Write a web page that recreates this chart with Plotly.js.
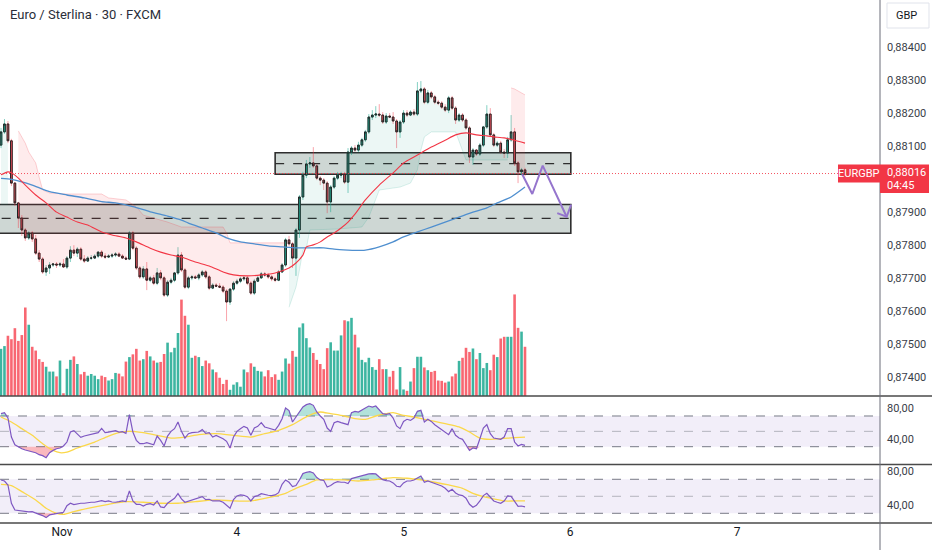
<!DOCTYPE html>
<html><head><meta charset="utf-8">
<script src="https://cdn.plot.ly/plotly-3.0.1.min.js"></script>
<style>html,body{margin:0;padding:0;background:#fff;}#chart{width:932px;height:550px;}</style>
</head><body><div id="chart"></div>
<script>
// ---------- DATA (EUR/GBP 30 min) ----------
const open = [0.88102,0.88142,0.88166,0.88115,0.87987,0.87927,0.87881,0.87845,0.87821,0.87836,
0.87818,0.87775,0.87757,0.87718,0.87730,0.87739,0.87742,0.87739,0.87742,0.87733,
0.87760,0.87784,0.87775,0.87787,0.87757,0.87751,0.87760,0.87760,0.87766,0.87778,
0.87766,0.87763,0.87766,0.87769,0.87772,0.87766,0.87760,0.87757,0.87836,0.87790,
0.87730,0.87703,0.87727,0.87693,0.87700,0.87684,0.87715,0.87700,0.87648,0.87687,
0.87693,0.87715,0.87769,0.87724,0.87672,0.87700,0.87703,0.87700,0.87709,0.87718,
0.87703,0.87669,0.87678,0.87675,0.87672,0.87660,0.87627,0.87666,0.87684,0.87690,
0.87697,0.87700,0.87684,0.87654,0.87690,0.87700,0.87712,0.87709,0.87703,0.87697,
0.87693,0.87718,0.87739,0.87815,0.87803,0.87760,0.87845,0.87945,0.88011,0.88045,
0.88048,0.88039,0.88002,0.87996,0.87987,0.87930,0.87975,0.88002,0.88011,0.88014,
0.87990,0.88081,0.88093,0.88087,0.88102,0.88118,0.88142,0.88187,0.88193,0.88196,
0.88193,0.88172,0.88190,0.88187,0.88175,0.88142,0.88172,0.88199,0.88193,0.88202,
0.88196,0.88266,0.88272,0.88232,0.88260,0.88248,0.88232,0.88229,0.88217,0.88208,
0.88245,0.88214,0.88178,0.88193,0.88178,0.88154,0.88066,0.88087,0.88075,0.88102,
0.88157,0.88196,0.88133,0.88102,0.88108,0.88081,0.88078,0.88118,0.88142,0.88048,
0.88021,0.88027];
const high = [0.88154,0.88181,0.88175,0.88121,0.87990,0.87930,0.87890,0.87851,0.87842,0.87842,
0.87830,0.87784,0.87763,0.87739,0.87748,0.87745,0.87748,0.87748,0.87757,0.87766,
0.87796,0.87799,0.87793,0.87793,0.87769,0.87766,0.87769,0.87772,0.87781,0.87784,
0.87775,0.87772,0.87775,0.87778,0.87778,0.87772,0.87766,0.87842,0.87842,0.87796,
0.87736,0.87736,0.87748,0.87706,0.87709,0.87730,0.87724,0.87706,0.87693,0.87700,
0.87718,0.87793,0.87778,0.87730,0.87706,0.87709,0.87709,0.87715,0.87724,0.87724,
0.87709,0.87684,0.87684,0.87684,0.87678,0.87666,0.87669,0.87690,0.87697,0.87703,
0.87706,0.87706,0.87690,0.87697,0.87706,0.87718,0.87718,0.87715,0.87709,0.87703,
0.87724,0.87745,0.87821,0.87827,0.87809,0.87851,0.87951,0.88021,0.88057,0.88066,
0.88096,0.88045,0.88008,0.88002,0.87993,0.87981,0.88008,0.88021,0.88021,0.88021,
0.88093,0.88099,0.88102,0.88112,0.88124,0.88148,0.88196,0.88208,0.88220,0.88226,
0.88202,0.88199,0.88199,0.88202,0.88181,0.88178,0.88208,0.88208,0.88208,0.88211,
0.88293,0.88296,0.88278,0.88269,0.88266,0.88254,0.88239,0.88235,0.88226,0.88251,
0.88251,0.88220,0.88199,0.88199,0.88184,0.88160,0.88093,0.88090,0.88108,0.88160,
0.88223,0.88214,0.88139,0.88115,0.88115,0.88090,0.88127,0.88193,0.88154,0.88054,
0.88033,0.88033];
const low = [0.88093,0.88136,0.88108,0.87978,0.87918,0.87851,0.87827,0.87812,0.87815,0.87809,
0.87769,0.87748,0.87712,0.87706,0.87712,0.87733,0.87730,0.87733,0.87730,0.87727,
0.87748,0.87766,0.87763,0.87751,0.87745,0.87748,0.87754,0.87757,0.87760,0.87760,
0.87757,0.87760,0.87760,0.87763,0.87763,0.87757,0.87754,0.87754,0.87784,0.87724,
0.87697,0.87697,0.87663,0.87687,0.87678,0.87678,0.87693,0.87642,0.87642,0.87681,
0.87687,0.87709,0.87718,0.87666,0.87666,0.87693,0.87697,0.87693,0.87703,0.87697,
0.87663,0.87666,0.87672,0.87669,0.87654,0.87569,0.87618,0.87660,0.87678,0.87684,
0.87690,0.87678,0.87648,0.87648,0.87687,0.87697,0.87703,0.87697,0.87690,0.87687,
0.87690,0.87715,0.87733,0.87796,0.87730,0.87706,0.87821,0.87936,0.88002,0.88033,
0.88033,0.87996,0.87981,0.87966,0.87896,0.87899,0.87969,0.87996,0.88002,0.87984,
0.87957,0.88072,0.88081,0.88081,0.88096,0.88112,0.88136,0.88178,0.88184,0.88187,
0.88166,0.88166,0.88184,0.88166,0.88093,0.88124,0.88166,0.88187,0.88190,0.88190,
0.88190,0.88260,0.88226,0.88226,0.88242,0.88226,0.88223,0.88211,0.88202,0.88199,
0.88208,0.88166,0.88172,0.88172,0.88148,0.88048,0.88042,0.88069,0.88069,0.88096,
0.88151,0.88127,0.88096,0.88096,0.88075,0.88063,0.88063,0.88112,0.88039,0.87987,
0.88011,0.88008];
const close = [0.88142,0.88166,0.88115,0.87987,0.87927,0.87881,0.87845,0.87821,0.87836,0.87818,
0.87775,0.87757,0.87718,0.87730,0.87739,0.87742,0.87739,0.87742,0.87733,0.87760,
0.87784,0.87775,0.87787,0.87757,0.87751,0.87760,0.87760,0.87766,0.87778,0.87766,
0.87763,0.87766,0.87769,0.87772,0.87766,0.87760,0.87757,0.87836,0.87790,0.87730,
0.87703,0.87727,0.87693,0.87700,0.87684,0.87715,0.87700,0.87648,0.87687,0.87693,
0.87715,0.87769,0.87724,0.87672,0.87700,0.87703,0.87700,0.87709,0.87718,0.87703,
0.87669,0.87678,0.87675,0.87672,0.87660,0.87627,0.87666,0.87684,0.87690,0.87697,
0.87700,0.87684,0.87654,0.87690,0.87700,0.87712,0.87709,0.87703,0.87697,0.87693,
0.87718,0.87739,0.87815,0.87803,0.87760,0.87845,0.87945,0.88011,0.88045,0.88048,
0.88039,0.88002,0.87996,0.87987,0.87930,0.87975,0.88002,0.88011,0.88014,0.87990,
0.88081,0.88093,0.88087,0.88102,0.88118,0.88142,0.88187,0.88193,0.88196,0.88193,
0.88172,0.88190,0.88187,0.88175,0.88142,0.88172,0.88199,0.88193,0.88202,0.88196,
0.88266,0.88272,0.88232,0.88260,0.88248,0.88232,0.88229,0.88217,0.88208,0.88245,
0.88214,0.88178,0.88193,0.88178,0.88154,0.88066,0.88087,0.88075,0.88102,0.88157,
0.88196,0.88133,0.88102,0.88108,0.88081,0.88078,0.88118,0.88142,0.88048,0.88021,
0.88027,0.88016];
const volume = [137,145,175,165,197,160,177,257,207,143,
132,107,99,85,71,71,57,103,8,79,
105,115,93,63,70,59,64,59,49,59,
55,45,49,67,65,57,100,113,121,137,
103,107,131,115,103,97,99,122,155,127,
140,183,280,233,207,111,117,113,87,103,
95,77,69,53,35,47,18,33,40,27,
77,69,95,85,73,71,57,75,55,63,
47,71,109,94,131,114,199,211,168,141,
125,105,93,78,139,156,132,132,176,220,
217,227,178,141,105,98,111,84,76,107,
78,78,56,73,19,84,19,15,42,81,
114,114,83,75,70,73,45,44,39,42,
57,65,102,111,140,128,138,107,125,81,
96,75,120,113,167,172,172,172,295,198,
187,143];
// RSI panes
const rsiA = [73,74.3,67.4,42.6,32.6,29.6,27.4,25.7,24.3,23,
22.2,19.6,18.3,15.7,22.2,25.2,27.4,28.3,30.9,36.1,
49.1,50.9,46.5,42.2,43.9,44.8,45.7,47,48.3,53.9,
48.3,49.1,50.4,50.9,49.1,49.6,47.4,71.7,49.1,38.3,
33.9,33.9,35.2,33.9,32.6,43.9,38.3,30.9,43.9,50,
53.5,62.2,50,41.3,47,48.3,49.1,49.1,52.2,47.4,
48.3,42.6,44.8,42.6,40.4,37,28.3,42.6,50,53.5,
56.5,54.3,44.8,54.3,56.5,61.3,55.7,54.3,53.5,51.7,
57.8,66.5,80.4,77,62.2,68.7,76.1,81.7,84.8,86.1,
83.9,75.2,70,65.7,54.3,50,61.3,63,61.3,60,
58.7,74.3,76.1,75.2,78.3,80.4,83,81.7,83,77.4,
73,72.2,73,67.4,57,53.5,63,65.7,64.3,67.4,
76.1,77.4,62.2,65.7,63,58.7,55.2,52.6,49.1,45.7,
53.5,44.8,41.3,39.6,32.6,25.2,28.3,27.4,40.4,54.3,
58.7,47,41.3,40.4,39.6,42.6,53.5,53.5,36.1,30.9,
33,31.7];
const rsiB = [69.2,68,63.3,41.8,33.9,33.2,32.4,32,31.6,32,
30.8,28.8,27.3,24.9,28.1,28.8,29.6,30.4,31.2,39,
41.8,40.2,41.4,41.8,41.8,42.6,43,43,43.7,44.9,
43.7,44.5,43.3,43,43.7,44.5,43.7,56.3,44.5,40.6,
40.6,38.6,40.6,41.4,39.8,44.5,37.5,36.7,41.8,44.5,
47.7,53.1,46.9,43,44.5,45.7,46.9,48.4,49.6,46.1,
46.5,44.5,44.5,44.5,43,39.8,35.9,46.1,50.4,51.6,
51.2,49.6,44.5,49.6,50.8,53.1,51.9,51.2,50.8,51.6,
54.3,64.1,69.2,66.5,61.4,62.6,69.2,76.7,78.2,79,
77.4,72,69.2,68.8,61,62.6,65.7,67.3,66.5,66.5,
64.9,70.8,72,73.1,74.7,75.9,76.3,76.7,76.3,72.7,
69.6,68.4,68,65.7,61.8,61,65.7,68,68,69.2,
72,73.9,66.5,68,66.5,64.9,63.3,62.2,59.4,55.5,
58.2,53.9,51.6,50.8,47.7,40.6,37.1,39.4,44.5,50.8,
53.5,48.4,44.5,43,41.8,44.5,50.4,50,43.7,38.2,
38.6,37.5];
const maAIdx = [0,3,6,9,12,15,17,19,22,27,31,34,37,41,45,49,53,57,62,67,72,76,80,84,87,90,92,95,99,102,105,108,111,113,116,119,122,125,128,132,135,138,141,144,148,151];
const maAVal = [68.7,62.2,53.5,44.8,33.9,25.2,22.2,23,28.3,36.1,43.9,48.3,50,48.3,44.8,41.3,42.6,45.7,47,44.8,42.6,47,51.3,58.7,66.5,73,75.2,73,70,66.5,65.7,70,73,74.3,70.9,68.7,65.7,63,60,55.7,49.1,41.3,39.6,40.4,41.7,42.6];
const maBIdx = [0,3,6,10,13,16,18,21,25,31,36,41,46,51,56,62,67,72,77,82,85,88,91,94,99,103,107,111,113,117,121,125,129,133,136,139,142,145,148,151];
const maBVal = [64.1,62.6,55.5,45.7,35.9,30,28.8,32,35.9,40.6,43.7,43,41.8,41.8,43.7,45.7,44.5,44.5,48.4,53.5,59.4,64.1,69.2,69.6,69.2,68,69.2,71.2,72,71.2,69.2,66.5,63.3,59.4,53.5,49.6,46.9,44.5,44.5,44.5];
// moving averages on price
const redIdx = [0,2,3,5,7,10,13,16,19,22,25,29,32,36,39,43,46,49,52,56,60,64,67,71,75,79,83,85,87,88,90,92,94,96,98,100,102,105,109,113,116,120,124,128,131,134,137,140,142,145,148,151];
const redVal = [0.88012,0.88021,0.88018,0.88002,0.87981,0.87951,0.87927,0.87899,0.87884,0.87869,0.87860,0.87839,0.87830,0.87821,0.87809,0.87790,0.87778,0.87769,0.87763,0.87748,0.87736,0.87718,0.87709,0.87706,0.87709,0.87715,0.87730,0.87745,0.87769,0.87794,0.87800,0.87809,0.87824,0.87836,0.87851,0.87869,0.87893,0.87936,0.87981,0.88018,0.88048,0.88072,0.88096,0.88117,0.88133,0.88139,0.88133,0.88130,0.88127,0.88124,0.88117,0.88108];
const blueIdx = [0,3,6,9,14,19,24,29,33,38,43,48,52,54,58,62,65,69,73,77,81,85,89,93,96,100,102,105,109,113,116,120,124,128,132,136,140,143,147,151];
const blueVal = [0.88001,0.87998,0.87991,0.87981,0.87961,0.87951,0.87942,0.87931,0.87927,0.87916,0.87900,0.87887,0.87875,0.87866,0.87851,0.87836,0.87821,0.87809,0.87803,0.87797,0.87794,0.87791,0.87791,0.87791,0.87787,0.87784,0.87783,0.87784,0.87794,0.87809,0.87824,0.87839,0.87854,0.87869,0.87884,0.87899,0.87912,0.87927,0.87945,0.87975];
// trailing bands (cloud edges)
const pinkAIdx = [5,6,7,8,9,10,11,12,14,19,24,29,31,36,39,41,44,48,52,64,65,66,82];
const pinkAVal = [0.88145,0.88127,0.88108,0.88081,0.88066,0.88048,0.88005,0.87966,0.87957,0.87954,0.87954,0.87954,0.87942,0.87936,0.87915,0.87890,0.87881,0.87869,0.87854,0.87854,0.87836,0.87806,0.87806];
const greenAIdx = [0,2];
const greenAVal = [0.87921,0.87921];
const greenBIdx = [83,85,86,87,88,89,97,104,106,109,115,118,120,121,122,124,131,134,146];
const greenBVal = [0.87611,0.87672,0.87724,0.87784,0.87790,0.87845,0.87848,0.87854,0.87884,0.87966,0.87975,0.87987,0.88027,0.88087,0.88127,0.88142,0.88142,0.88057,0.88057];
const pinkBIdx = [147,148,149,150,151];
const pinkBVal = [0.88275,0.88272,0.88266,0.88260,0.88254];
// drawings
const zoneStart = [79.0, -5];
const zoneEnd = [164.2, 164.2];
const zoneTop = [0.88079, 0.87922];
const zoneBot = [0.88014, 0.87835];
const zoneMid = [0.88046, 0.87880];
const arrowIdx = [150.2, 153.1, 156.1, 163.0];
const arrowPx = [0.88014, 0.87954, 0.88040, 0.87885];
const headIdx = [160.3, 163.0, 164.3];
const headPx = [0.87896, 0.87885, 0.87922];
// axes labels
const priceTicks = [0.884,0.883,0.882,0.881,0.879,0.878,0.877,0.876,0.875,0.874];
const priceLabels = ['0,88400','0,88300','0,88200','0,88100','0,87900','0,87800','0,87700','0,87600','0,87500','0,87400'];
const rsiTicks = [80,40];
const rsiLabels = ['80,00','40,00'];
const dayIdx = [17.6, 68.0, 116.1, 164.0, 212.1];
const dayLabels = ['Nov','4','5','6','7'];
const symbolText = 'Euro / Sterlina · 30 · FXCM';
const countdown = '04:45';

// ---------- BUILD ----------
const N = close.length;
const idx = close.map((_, i) => i);
const lastPrice = close[N - 1];
const bodyHi = open.map((o, i) => Math.max(o, close[i]));
const bodyLo = open.map((o, i) => Math.min(o, close[i]));
const volColors = close.map((c, i) => c >= open[i] ? 'rgba(34,171,148,0.88)' : 'rgba(247,82,95,0.88)');

function bandPoly(bIdx, bVal) {
  const a = bIdx[0], b = bIdx[bIdx.length - 1];
  const xs = bIdx.slice(), ys = bVal.slice();
  for (let i = b; i >= a; i--) { xs.push(i); ys.push(close[i]); }
  return { x: xs, y: ys };
}
const PINKF = 'rgba(242,54,69,0.10)', GREENF = 'rgba(8,153,129,0.08)';
function fillTrace(bIdx, bVal, col) {
  const p = bandPoly(bIdx, bVal);
  return { type: 'scatter', mode: 'lines', x: p.x, y: p.y, xaxis: 'x', yaxis: 'y2', fill: 'toself', fillcolor: col, line: { width: 0 }, hoverinfo: 'skip' };
}
function edgeTrace(bIdx, bVal, col) {
  return { type: 'scatter', mode: 'lines', x: bIdx, y: bVal, xaxis: 'x', yaxis: 'y2', line: { color: col, width: 1 }, hoverinfo: 'skip' };
}

const traces = [];
traces.push({ type: 'bar', x: idx, y: volume, xaxis: 'x', yaxis: 'y', marker: { color: volColors, line: { width: 0 } }, hoverinfo: 'skip' });
traces.push(fillTrace(pinkAIdx, pinkAVal, PINKF));
traces.push(edgeTrace(pinkAIdx, pinkAVal, 'rgba(242,54,69,0.22)'));
traces.push(fillTrace(greenAIdx, greenAVal, GREENF));
traces.push(fillTrace(greenBIdx, greenBVal, GREENF));
traces.push(edgeTrace(greenBIdx, greenBVal, 'rgba(8,153,129,0.15)'));
traces.push(fillTrace(pinkBIdx, pinkBVal, PINKF));
traces.push(edgeTrace(pinkBIdx, pinkBVal, 'rgba(242,54,69,0.22)'));
traces.push({ type: 'scatter', mode: 'lines', x: blueIdx, y: blueVal, xaxis: 'x', yaxis: 'y2', line: { color: '#4f8fcf', width: 1.3, shape: 'spline', smoothing: 0.6 }, hoverinfo: 'skip' });
traces.push({ type: 'scatter', mode: 'lines', x: redIdx, y: redVal, xaxis: 'x', yaxis: 'y2', line: { color: '#f23645', width: 1.1, shape: 'spline', smoothing: 0.6 }, hoverinfo: 'skip' });
// wicks
traces.push({ type: 'candlestick', x: idx, open: open, high: high, low: low, close: close, xaxis: 'x', yaxis: 'y2',
  increasing: { line: { color: 'rgba(34,171,148,0.55)', width: 1 }, fillcolor: 'rgba(0,0,0,0)' },
  decreasing: { line: { color: 'rgba(242,54,69,0.45)', width: 1 }, fillcolor: 'rgba(0,0,0,0)' },
  whiskerwidth: 0, hoverinfo: 'skip' });
// bodies with dark outline
traces.push({ type: 'candlestick', x: idx, open: open, high: bodyHi, low: bodyLo, close: close, xaxis: 'x', yaxis: 'y2',
  increasing: { line: { color: '#222', width: 1 }, fillcolor: '#22ab94' },
  decreasing: { line: { color: '#222', width: 1 }, fillcolor: '#f7525f' },
  whiskerwidth: 0, hoverinfo: 'skip' });
// purple projection arrow
traces.push({ type: 'scatter', mode: 'lines', x: arrowIdx, y: arrowPx, xaxis: 'x', yaxis: 'y2', line: { color: '#9575cd', width: 2 }, hoverinfo: 'skip' });
traces.push({ type: 'scatter', mode: 'lines', x: headIdx, y: headPx, xaxis: 'x', yaxis: 'y2', line: { color: '#9575cd', width: 2 }, hoverinfo: 'skip' });

function rsiTraces(vals, maIdx, maVal, ya) {
  const out = [];
  out.push({ type: 'scatter', mode: 'lines', x: idx, y: idx.map(() => 30), xaxis: 'x', yaxis: ya, line: { width: 0 }, hoverinfo: 'skip' });
  out.push({ type: 'scatter', mode: 'lines', x: idx, y: vals.map(v => Math.min(v, 30)), xaxis: 'x', yaxis: ya, fill: 'tonexty', fillcolor: 'rgba(242,54,69,0.35)', line: { width: 0 }, hoverinfo: 'skip' });
  out.push({ type: 'scatter', mode: 'lines', x: idx, y: idx.map(() => 70), xaxis: 'x', yaxis: ya, line: { width: 0 }, hoverinfo: 'skip' });
  out.push({ type: 'scatter', mode: 'lines', x: idx, y: vals.map(v => Math.max(v, 70)), xaxis: 'x', yaxis: ya, fill: 'tonexty', fillcolor: 'rgba(34,171,148,0.35)', line: { width: 0 }, hoverinfo: 'skip' });
  out.push({ type: 'scatter', mode: 'lines', x: maIdx, y: maVal, xaxis: 'x', yaxis: ya, line: { color: '#fbd84a', width: 1.3, shape: 'spline', smoothing: 0.7 }, hoverinfo: 'skip' });
  out.push({ type: 'scatter', mode: 'lines', x: idx, y: vals, xaxis: 'x', yaxis: ya, line: { color: '#7e57c2', width: 1.2 }, hoverinfo: 'skip' });
  return out;
}
traces.push(...rsiTraces(rsiA, maAIdx, maAVal, 'y3'));
traces.push(...rsiTraces(rsiB, maBIdx, maBVal, 'y4'));

// ---------- SHAPES ----------
const shapes = [];
for (let k = 0; k < zoneTop.length; k++) {
  shapes.push({ type: 'rect', xref: 'x', yref: 'y2', x0: zoneStart[k], x1: zoneEnd[k], y0: zoneBot[k], y1: zoneTop[k],
    fillcolor: 'rgba(120,144,136,0.36)', line: { color: '#2e2e2e', width: 1.6 }, layer: 'below' });
  shapes.push({ type: 'line', xref: 'x', yref: 'y2', x0: zoneStart[k], x1: zoneEnd[k], y0: zoneMid[k], y1: zoneMid[k],
    line: { color: '#2e2e2e', width: 1.3, dash: 'dash' }, layer: 'below' });
}
shapes.push({ type: 'line', xref: 'paper', yref: 'y2', x0: 0, x1: 0.95227, y0: lastPrice, y1: lastPrice, line: { color: 'rgba(242,54,69,0.85)', width: 1, dash: '1px,2px' } });
['y3', 'y4'].forEach(ya => {
  shapes.push({ type: 'rect', xref: 'paper', yref: ya, x0: 0, x1: 1, y0: 30, y1: 70, fillcolor: 'rgba(126,87,194,0.10)', line: { width: 0 }, layer: 'below' });
  shapes.push({ type: 'line', xref: 'paper', yref: ya, x0: 0, x1: 1, y0: 70, y1: 70, line: { color: '#787b86', width: 1, dash: 'dash' }, layer: 'below' });
  shapes.push({ type: 'line', xref: 'paper', yref: ya, x0: 0, x1: 1, y0: 50, y1: 50, line: { color: 'rgba(120,123,134,0.5)', width: 1, dash: 'dash' }, layer: 'below' });
  shapes.push({ type: 'line', xref: 'paper', yref: ya, x0: 0, x1: 1, y0: 30, y1: 30, line: { color: '#787b86', width: 1, dash: 'dash' }, layer: 'below' });
});
// pane separators and price-scale border
[0.24283, 0.11185, 0.0].forEach(py => {
  shapes.push({ type: 'line', xref: 'paper', yref: 'paper', x0: 0, x1: 1.0591, y0: py, y1: py, line: { color: '#4a4a4a', width: 1.5 } });
});
shapes.push({ type: 'line', xref: 'paper', yref: 'paper', x0: 1, x1: 1, y0: -0.0517, y1: 1, line: { color: '#6a6d78', width: 1 } });
// price labels
shapes.push({ type: 'rect', xref: 'paper', yref: 'paper', x0: 0.95227, x1: 1.0, y0: 0.65105, y1: 0.68547, fillcolor: '#f23645', line: { width: 0 } });
shapes.push({ type: 'rect', xref: 'paper', yref: 'paper', x0: 1.0, x1: 1.05568, y0: 0.63098, y1: 0.68547, fillcolor: '#f23645', line: { width: 0 } });
shapes.push({ type: 'rect', xref: 'paper', yref: 'paper', x0: 1.00795, x1: 1.05568, y0: 0.94646, y1: 0.99426, fillcolor: '#ffffff', line: { color: '#e0e3eb', width: 1 } });

const annotations = [
  { xref: 'paper', yref: 'paper', x: 0.00909, y: 0.97132, xanchor: 'left', yanchor: 'middle', text: symbolText, showarrow: false, font: { size: 13, color: '#2a2e39' } },
  { xref: 'paper', yref: 'paper', x: 0.97614, y: 0.66826, xanchor: 'center', yanchor: 'middle', text: 'EURGBP', showarrow: false, font: { size: 11, color: '#ffffff' } },
  { xref: 'paper', yref: 'paper', x: 1.00568, y: 0.66922, xanchor: 'left', yanchor: 'middle', text: lastPrice.toFixed(5).replace('.', ','), showarrow: false, font: { size: 11, color: '#ffffff' } },
  { xref: 'paper', yref: 'paper', x: 1.00568, y: 0.64436, xanchor: 'left', yanchor: 'middle', text: countdown, showarrow: false, font: { size: 11, color: '#ffffff' } },
  { xref: 'paper', yref: 'paper', x: 1.02955, y: 0.97036, xanchor: 'center', yanchor: 'middle', text: 'GBP', showarrow: false, font: { size: 11, color: '#131722' } }
];

const rightAxis = { side: 'right', anchor: 'x', showgrid: false, zeroline: false, showline: false, ticks: '', ticklabelstandoff: 6, fixedrange: true, tickfont: { size: 11, color: '#3a3e48' } };

const layout = {
  width: 932, height: 550,
  margin: { l: 0, r: 52, t: 0, b: 27 },
  paper_bgcolor: '#ffffff', plot_bgcolor: '#ffffff',
  showlegend: false, bargap: 0.25, dragmode: false,
  font: { family: 'Roboto, "Liberation Sans", Arial, sans-serif', color: '#131722' },
  xaxis: { range: [-0.288, 253.3], anchor: 'y4', showgrid: false, zeroline: false, showline: false, ticks: '',
    tickvals: dayIdx, ticktext: dayLabels, tickfont: { size: 12, color: '#131722' }, rangeslider: { visible: false }, fixedrange: true },
  yaxis: { domain: [0.2428, 1], range: [0, 1150], visible: false, fixedrange: true },
  yaxis2: Object.assign({}, rightAxis, { overlaying: 'y', range: [0.873423, 0.885414], tickvals: priceTicks, ticktext: priceLabels }),
  yaxis3: Object.assign({}, rightAxis, { domain: [0.11281, 0.24092], range: [7.46, 94.76], tickvals: rsiTicks, ticktext: rsiLabels }),
  yaxis4: Object.assign({}, rightAxis, { domain: [0, 0.1109], range: [18.6, 86.8], tickvals: rsiTicks, ticktext: rsiLabels }),
  shapes: shapes,
  annotations: annotations
};

Plotly.newPlot('chart', traces, layout, { displayModeBar: false, staticPlot: true });
</script>
</body></html>
